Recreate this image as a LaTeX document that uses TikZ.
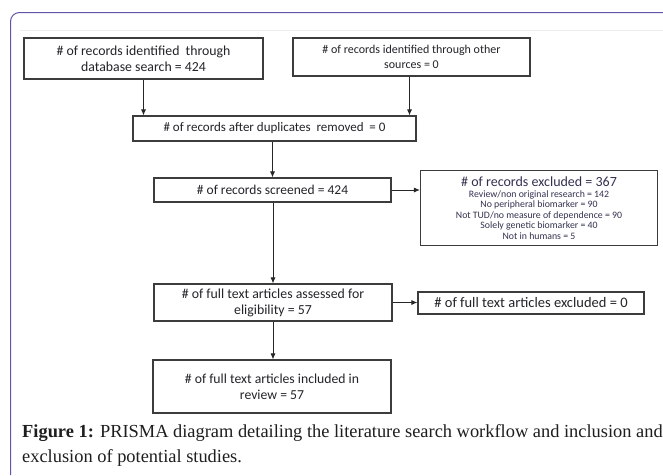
\documentclass[tikz,border=0pt]{standalone}
\usepackage{fontspec}
\setmainfont{Liberation Serif}
\newfontfamily\capf{Liberation Serif}
\newfontfamily\carl{Carlito}
\usetikzlibrary{arrows.meta}
\definecolor{framec}{RGB}{98,84,168}
\definecolor{boxc}{RGB}{60,60,60}
\definecolor{txtc}{RGB}{35,35,42}
\definecolor{extc}{RGB}{50,50,80}
\definecolor{capc}{RGB}{30,30,30}
\tikzset{
  pbox/.style={draw=boxc, line width=1.1pt, inner sep=0pt, align=center, text=txtc,
     font=\carl\fontsize{13.8}{16}\selectfont},
  arr/.style={draw=black!85, line width=0.9pt, -{Latex[length=6pt,width=5pt]}},
  captext/.style={anchor=base west, inner sep=0pt, text=capc, font=\capf\fontsize{18.4}{22}\selectfont}
}
\begin{document}
\begin{tikzpicture}[x=1pt,y=-1pt]
\useasboundingbox[fill=white] (0,0) rectangle (663,475);
\draw[framec, line width=1pt, rounded corners=9pt] (10.5,475) -- (10.5,12.5) -- (663,12.5);
\draw[black!7, line width=0.8pt] (20,30) -- (663,30);

\node[pbox, minimum width=239pt, minimum height=41pt] (A) at (143.5,58.5)
  {\# of records identified\ \ through\\database search = 424};
\node[pbox, minimum width=237pt, minimum height=38pt, font=\carl\fontsize{12}{15}\selectfont] (B) at (411.5,57)
  {\# of records identified through other\\sources = 0};
\node[pbox, minimum width=283pt, minimum height=25pt, font=\carl\fontsize{13}{16}\selectfont] (C) at (274.5,128.5)
  {\# of records after duplicates\ \ removed\ \ = 0};
\node[pbox, minimum width=237pt, minimum height=24pt, font=\carl\fontsize{13.5}{16}\selectfont] (D) at (272.5,190)
  {\# of records screened = 424};
\node[pbox, minimum width=237pt, minimum height=75pt, text=extc, font=\carl\fontsize{9.8}{10.6}\selectfont] (E) at (539,208)
  {{\fontsize{14}{13}\selectfont \# of records excluded = 367}\\[0.5pt]
   Review/non original research = 142\\
   No peripheral biomarker = 90\\
   Not TUD/no measure of dependence = 90\\
   Solely genetic biomarker = 40\\
   Not in humans = 5};
\node[pbox, minimum width=238pt, minimum height=37pt] (F) at (273,302.5)
  {\# of full text articles assessed for\\eligibility = 57};
\node[pbox, minimum width=226pt, minimum height=22pt, font=\carl\fontsize{14.5}{16}\selectfont] (G) at (531,303)
  {\# of full text articles excluded = 0};
\node[pbox, minimum width=238pt, minimum height=53pt, font=\carl\fontsize{13.7}{16}\selectfont] (H) at (272,386.5)
  {\# of full text articles included in\\review = 57};

\coordinate (bs) at ([xshift=-2pt]B.south);
\draw[arr] (A.south) -- (C.north -| A.south);
\draw[arr] (bs) -- (C.north -| bs);
\draw[arr] (D.north |- C.south) -- (D.north);
\draw[arr] (D.east) -- (E.west |- D.east);
\draw[arr] (F.north |- D.south) -- (F.north);
\draw[arr] (F.east) -- (G.west |- F.east);
\draw[arr] (F.south) -- (H.north -| F.south);

\node[captext] (cap1) at (22,437) {\textbf{Figure 1:} PRISMA diagram detailing the literature search workflow and inclusion and};
\node[captext] (cap2) at (22,462) {exclusion of potential studies.};
\end{tikzpicture}
\end{document}
